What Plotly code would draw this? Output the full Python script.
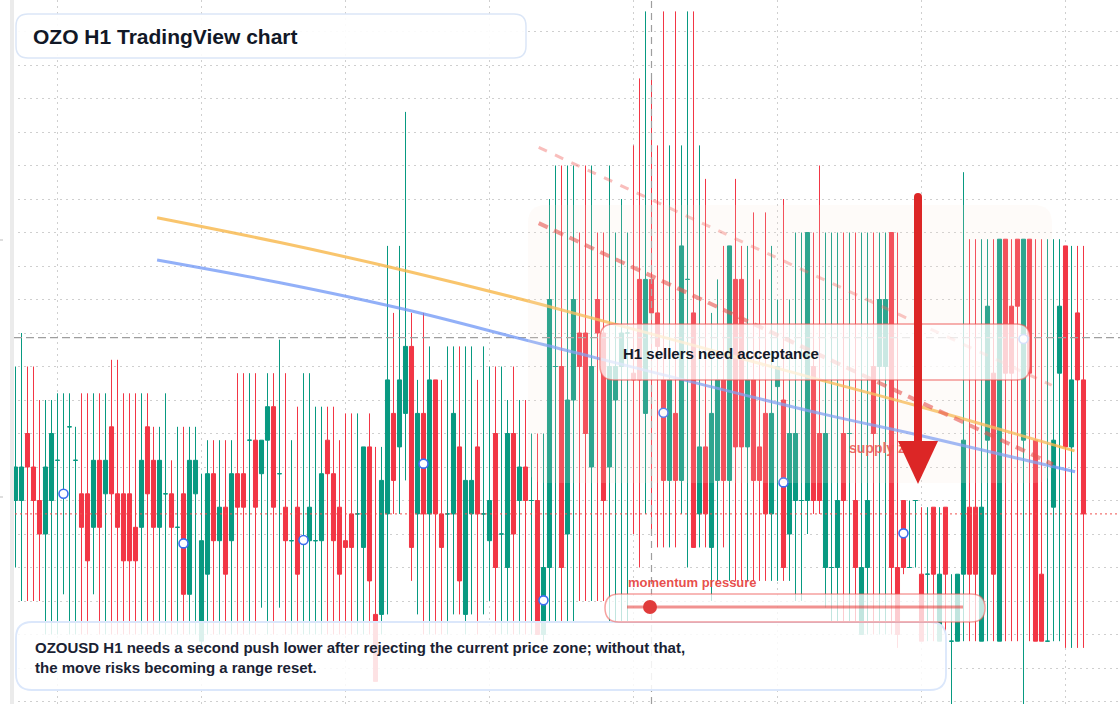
import plotly.graph_objects as go

# ---------------- data (price in ticks) ----------------
opens = [0,0,10,5,0,-5,0,6,1,11, 6,1,1,-4,6,1,11,1,1,1, -4,-4,11,6,-4,1,1,-4,1,-14,
         1,-21,-11,4,-6,-1,-6,4,4,9, 9,4,9,14,4,-1,-6,-1,-6,-6, -6,-6,9,4,-1,-6,-2,-2,-7,8,
         -17,-17,-2,13,8,13,23,-2,13,-2, 18,-2,-2,-2,8,-17,-2,8,-2,-6, 10,-5,-10,10,0,5,0,0,-20,-10,
         20,20,-5,15,25,25,5,30,25,5, 15,20,25,19,33,13,33,28,18,3, 13,3,33,28,-2,8,-7,3,18,3,
         33,33,8,18,8,13,-2,17,15,-5, 0,0,0,20,10,-10,-10,-10,10,10, 0,-20,-10,20,20,20,40,-10,0,-10,
         0,-11,-11,-1,-21,-1,-21,-21,-11,-1, -1,-21,9,19,-21,39,29,39,9,39, 9,-11,-21,-1,19,38,8,28,18]
highs = [20,25,20,20,15,15,15,16,16,16, 11,16,16,16,16,16,21,21,16,16, 16,16,16,11,11,16,6,11,11,11,
         11,4,9,9,9,9,9,19,19,19, 19,9,19,19,24,19,9,14,19,19, 14,14,14,14,9,13,13,13,8,13,
         8,8,38,28,38,58,28,18,28,23, 18,18,23,23,23,23,23,18,23,20, 20,20,15,20,15,15,10,10,10,45,
         50,50,50,50,40,50,50,40,40,50, 40,45,40,53,63,73,63,53,73,53, 73,53,73,73,53,48,28,33,38,38,
         48,38,38,43,33,43,38,30,45,30, 40,40,40,40,50,40,40,40,40,40, 40,40,40,40,40,40,40,40,0,0,
         0,-1,-1,-1,-1,-1,-11,-11,49,39, 39,39,39,39,39,39,39,39,39,39, 39,39,39,39,39,38,38,38,38]
lows = [-10,-15,-15,-15,-15,-20,-20,-20,-14,-20, -20,-20,-20,-14,-20,-20,-20,-20,-20,-20,
        -20,-20,-20,-20,-20,-20,-20,-20,-20,-20, -20,-22,-20,-20,-20,-20,-20,-20,-20,-20,
        -20,-16,-20,-20,-16,-20,-20,-20,-20,-20, -20,-20,-20,-20,-20,-20,-20,-20,-20,-20,
        -27,-20,-17,-2,-2,3,-12,-17,-20,-20, -20,-20,-20,-17,-17,-20,-17,-20,-17,-15,
        -20,-20,-20,-20,-20,-20,-20,-20,-21,-18, -18,-18,-18,-18,-15,-15,-15,-15,-15,-18,
        -18,-18,-18,-5,-10,-2,-5,-7,-7,-7, -7,-2,-10,-7,-7,-7,-15,-12,-7,-12,
        -12,-12,-12,-12,-12,-12,-12,-12,-12,-12, -15,-15,-5,-2,-2,-16,-18,-18,-18,-18,
        -18,-20,-20,-20,-20,-20,-20,-22,-11,-10, -10,-21,-21,-21,-21,-21,-31,-21,-21,-21,
        -21,-21,-21,-21,-21,-21,-21,-21,-31,-21, -21,-21,-21,-21,-21,-22,-22,-22,-22]
closes = [5,5,5,0,-5,5,10,6,1,11, 6,-4,-9,6,-4,6,1,-4,-9,-9, -9,6,1,-4,6,1,-4,-4,-14,6,
          6,-6,4,-6,-1,-11,4,-1,-1,9, -1,9,14,-1,4,-6,-6,-11,-6,-1, -6,4,4,-6,-11,-7,-7,-2,8,-12,
          -27,3,18,3,18,23,-7,13,-2,18, -2,-7,-2,13,-12,3,3,-2,-2,0, -10,-5,10,-5,5,0,0,-20,-10,30,
          20,-10,15,30,20,10,20,25,0,20, 20,25,25,18,18,33,28,23,3,18, 3,38,33,-7,8,-2,13,18,3,38,
          8,8,18,3,3,-2,13,20,-10,10, 10,0,40,0,0,10,-10,0,0,10, -10,-10,0,10,30,30,-10,-20,-10,-10,
          0,-21,-11,-11,-11,-11,-21,-11,9,-11, -11,-1,29,-11,39,19,19,29,39,19, -21,-21,-21,9,29,8,18,18,-2]

marker_idx = [8, 28, 48, 68, 88, 108, 128, 148, 168]
marker_val = [1.0, -6.4, -5.9, 5.5, -14.9, 13.1, 2.7, -4.9, 24.1]

ma_fast_x = [23.6, 44.1, 65.0, 87.5, 134.1, 150.8, 176.5]
ma_fast_y = [42.2, 38.5, 34.3, 29.3, 18.0, 14.0, 7.4]
ma_slow_x = [23.6, 44.1, 65.0, 88.3, 134.1, 150.8, 176.6]
ma_slow_y = [35.9, 32.5, 28.5, 23.2, 13.0, 9.7, 4.3]

trend_outer_x = [87.2, 172.7]
trend_outer_y = [52.7, 17.2]
trend_inner_x = [87.2, 172.9]
trend_inner_y = [41.4, 5.4]

current_level = 24.3
support_level = -2
event_index = 106

# ---------------- geometry helpers ----------------
W, H = 1120, 704
PX_PER_BAR = 6.0
PX_PER_TICK = 6.7
FIRST_BAR_PX = 15.5
X0 = -FIRST_BAR_PX / PX_PER_BAR
X1 = X0 + W / PX_PER_BAR
Y1 = 500.5 / PX_PER_TICK
Y0 = Y1 - H / PX_PER_TICK


def dx(px):
    return X0 + px / PX_PER_BAR


def dy(py):
    return Y1 - py / PX_PER_TICK


def PX(px):
    return px / W


def PY(py):
    return 1 - py / H


def rrect(x0, y0, x1, y1, r):
    return (f"M {PX(x0+r)},{PY(y0)} L {PX(x1-r)},{PY(y0)} Q {PX(x1)},{PY(y0)} {PX(x1)},{PY(y0+r)} "
            f"L {PX(x1)},{PY(y1-r)} Q {PX(x1)},{PY(y1)} {PX(x1-r)},{PY(y1)} "
            f"L {PX(x0+r)},{PY(y1)} Q {PX(x0)},{PY(y1)} {PX(x0)},{PY(y1-r)} "
            f"L {PX(x0)},{PY(y0+r)} Q {PX(x0)},{PY(y0)} {PX(x0+r)},{PY(y0)} Z")


UP = "#089981"
DOWN = "#f23645"

idx = list(range(len(opens)))
up_i = [i for i in idx if closes[i] >= opens[i]]
dn_i = [i for i in idx if closes[i] < opens[i]]

fig = go.Figure()

# support dotted line (under candles)
fig.add_trace(go.Scatter(x=[X0, X1], y=[support_level, support_level], mode="lines",
                         line=dict(color="#ef5350", width=1, dash="2px,3px"), hoverinfo="skip"))


def candle(ids, color):
    return go.Candlestick(
        x=ids, open=[opens[i] for i in ids], high=[highs[i] for i in ids],
        low=[lows[i] for i in ids], close=[closes[i] for i in ids],
        increasing=dict(line=dict(color=color, width=1), fillcolor=color),
        decreasing=dict(line=dict(color=color, width=1), fillcolor=color),
        whiskerwidth=0, hoverinfo="skip")


fig.add_trace(candle(up_i, UP))
fig.add_trace(candle(dn_i, DOWN))

# current level & event line
fig.add_trace(go.Scatter(x=[dx(14), X1], y=[current_level, current_level], mode="lines",
                         line=dict(color="#9e9e9e", width=1.2, dash="8px,4px"), hoverinfo="skip"))
fig.add_trace(go.Scatter(x=[event_index, event_index], y=[Y0, Y1], mode="lines",
                         line=dict(color="#9e9e9e", width=1.2, dash="7px,5px"), hoverinfo="skip"))

# moving averages
fig.add_trace(go.Scatter(x=ma_fast_x, y=ma_fast_y, mode="lines", line_shape="spline",
                         line=dict(color="rgba(247,183,72,0.8)", width=3), hoverinfo="skip"))
fig.add_trace(go.Scatter(x=ma_slow_x, y=ma_slow_y, mode="lines", line_shape="spline",
                         line=dict(color="rgba(110,150,245,0.75)", width=3), hoverinfo="skip"))

# trend lines
fig.add_trace(go.Scatter(x=trend_outer_x, y=trend_outer_y, mode="lines",
                         line=dict(color="rgba(239,83,80,0.38)", width=3, dash="9px,9px"), hoverinfo="skip"))
fig.add_trace(go.Scatter(x=trend_inner_x, y=trend_inner_y, mode="lines",
                         line=dict(color="rgba(229,57,53,0.6)", width=4, dash="10px,7px"), hoverinfo="skip"))

# markers
fig.add_trace(go.Scatter(x=marker_idx, y=marker_val, mode="markers",
                         marker=dict(symbol="circle", size=9, color="white",
                                     line=dict(color="#3d6ef0", width=1.6)), hoverinfo="skip"))

# supply zone label (sits under the arrow)
fig.add_trace(go.Scatter(x=[dx(849)], y=[dy(449)], mode="text", text=["<b>supply zone</b>"],
                         textposition="middle right",
                         textfont=dict(family="Liberation Sans, Arial, sans-serif", size=14,
                                       color="rgba(229,57,53,0.85)"), hoverinfo="skip"))

shapes = []
# left strip
shapes.append(dict(type="rect", xref="paper", yref="paper", x0=PX(0), x1=PX(10), y0=0, y1=1,
                   fillcolor="white", line=dict(width=0), layer="above"))
shapes.append(dict(type="rect", xref="paper", yref="paper", x0=PX(10), x1=PX(14), y0=0, y1=1,
                   fillcolor="#ebebeb", line=dict(width=0), layer="above"))
for ty in (240, 497):
    shapes.append(dict(type="line", xref="paper", yref="paper", x0=PX(0), x1=PX(3), y0=PY(ty), y1=PY(ty),
                       line=dict(color="#bdbdbd", width=1), layer="above"))
# supply zone
shapes.append(dict(type="path", xref="paper", yref="paper", path=rrect(528, 205, 1052, 483, 18),
                   fillcolor="rgba(250,232,220,0.16)", line=dict(width=0), layer="above"))
# H1 box
shapes.append(dict(type="path", xref="paper", yref="paper", path=rrect(600, 324, 1030, 380, 14),
                   fillcolor="rgba(255,255,255,0.75)", line=dict(color="rgba(239,83,80,0.6)", width=1.5),
                   layer="above"))
# bottom box
shapes.append(dict(type="path", xref="paper", yref="paper", path=rrect(16, 622, 946, 690, 16),
                   fillcolor="rgba(255,255,255,0.86)", line=dict(color="#dbe7fb", width=1.8),
                   layer="above"))
# momentum box
shapes.append(dict(type="path", xref="paper", yref="paper", path=rrect(605, 594, 985, 622, 14),
                   fillcolor="rgba(255,255,255,0.75)", line=dict(color="rgba(239,83,80,0.55)", width=1.5),
                   layer="above"))
shapes.append(dict(type="line", xref="paper", yref="paper", x0=PX(627), x1=PX(963), y0=PY(607), y1=PY(607),
                   line=dict(color="rgba(229,57,53,0.55)", width=3), layer="above"))
shapes.append(dict(type="circle", xref="paper", yref="paper", x0=PX(643), x1=PX(657), y0=PY(614), y1=PY(600),
                   fillcolor="#e03b3b", line=dict(width=0), layer="above"))
# title box
shapes.append(dict(type="path", xref="paper", yref="paper", path=rrect(16, 14, 526, 58, 12),
                   fillcolor="rgba(255,255,255,0.92)", line=dict(color="#dbe6f7", width=1.5),
                   layer="above"))
# arrow
shapes.append(dict(type="line", xref="paper", yref="paper", x0=PX(918), x1=PX(918), y0=PY(197), y1=PY(445),
                   line=dict(color="#dc2626", width=8), layer="above"))
shapes.append(dict(type="circle", xref="paper", yref="paper", x0=PX(914), x1=PX(922), y0=PY(201), y1=PY(193),
                   fillcolor="#dc2626", line=dict(width=0), layer="above"))
shapes.append(dict(type="path", xref="paper", yref="paper",
                   path=f"M {PX(898)},{PY(441)} L {PX(938)},{PY(441)} L {PX(918)},{PY(484)} Z",
                   fillcolor="#dc2626", line=dict(width=0), layer="above"))

FONT = "Liberation Sans, Arial, sans-serif"
annotations = [
    dict(xref="paper", yref="paper", x=PX(31), y=PY(36), xanchor="left", yanchor="middle", showarrow=False,
         text="<b>OZO H1 TradingView chart</b>", font=dict(family=FONT, size=21, color="#111827")),
    dict(xref="paper", yref="paper", x=PX(621), y=PY(353), xanchor="left", yanchor="middle", showarrow=False,
         text="<b>H1 sellers need acceptance</b>", font=dict(family=FONT, size=15, color="#111827")),
    dict(xref="paper", yref="paper", x=PX(626), y=PY(582), xanchor="left", yanchor="middle", showarrow=False,
         text="<b>momentum pressure</b>", font=dict(family=FONT, size=13, color="rgba(229,57,53,0.9)")),
    dict(xref="paper", yref="paper", x=PX(33), y=PY(657), xanchor="left", yanchor="middle", showarrow=False,
         align="left",
         text="<b>OZOUSD H1 needs a second push lower after rejecting the current price zone; without that,</b>"
              "<br><b>the move risks becoming a range reset.</b>",
         font=dict(family=FONT, size=15, color="#1a2233")),
]

fig.update_layout(
    width=W, height=H, margin=dict(l=0, r=0, t=0, b=0),
    paper_bgcolor="white", plot_bgcolor="white", showlegend=False,
    boxgap=0.18, boxgroupgap=0.18,
    shapes=shapes, annotations=annotations,
    xaxis=dict(range=[X0, X1], showgrid=True, gridcolor="#cfcfcf", griddash="2px,4px", gridwidth=1,
               tick0=(57.5 - FIRST_BAR_PX) / PX_PER_BAR, dtick=24, showticklabels=False, zeroline=False,
               showline=False, ticks="", rangeslider=dict(visible=False), fixedrange=True),
    yaxis=dict(range=[Y0, Y1], showgrid=True, gridcolor="#cfcfcf", griddash="2px,4px", gridwidth=1,
               tick0=0, dtick=5, showticklabels=False, zeroline=False, showline=False, ticks="",
               fixedrange=True),
    hovermode=False,
)

fig.write_html("out.html", config={"displayModeBar": False})
